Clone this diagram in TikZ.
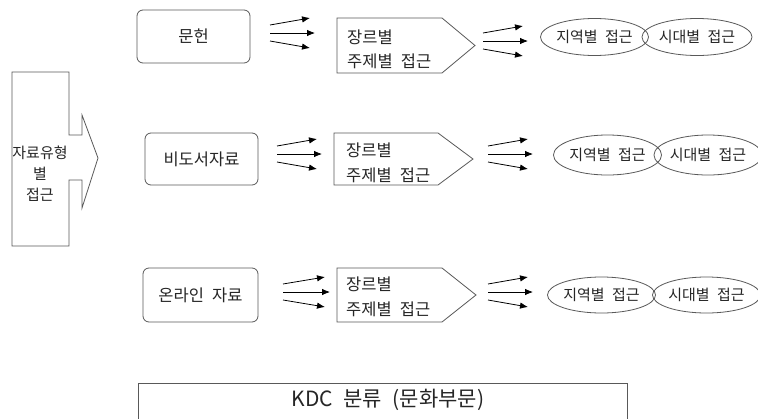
\documentclass[tikz,border=0pt]{standalone}
\usepackage{fontspec}
\setmainfont[WordSpace=2.2]{Noto Sans CJK KR}
\usetikzlibrary{arrows.meta,shapes.geometric}
\newcommand\fanarrows[4]{%
  \coordinate (#4-s1) at (#1,#3-8); \coordinate (#4-e1) at (#2-5,#3-15);
  \coordinate (#4-s2) at (#1,#3);   \coordinate (#4-e2) at (#2,#3);
  \coordinate (#4-s3) at (#1,#3+8); \coordinate (#4-e3) at (#2-5,#3+15);
  \draw[fan] (#4-s1) -- (#4-e1);
  \draw[fan] (#4-s2) -- (#4-e2);
  \draw[fan] (#4-s3) -- (#4-e3);}
\begin{document}
\begin{tikzpicture}[x=1pt,y=-1pt,
  shapeline/.style={draw=black!65, line width=0.8pt},
  fan/.style={-{Latex[length=8pt,width=6.5pt]}, line width=0.8pt, black},
  lbl/.style={font=\fontsize{16.5}{20}\selectfont, inner sep=0pt, text=black!85},
  rbox/.style={shapeline, rounded corners=6pt, inner sep=0pt, font=\fontsize{16.5}{20}\selectfont, text=black!85},
  ell/.style={shapeline, ellipse, inner sep=0pt, font=\fontsize{15}{20}\selectfont, text=black!85},
]
\useasboundingbox (0,0) rectangle (758,418);
\clip (0,0) rectangle (758,418);
\fill[white] (0,0) rectangle (758,418);

% left arrow callout
\draw[shapeline] (12,72) -- (69,72) -- (69,135) -- (82,135) -- (82,115) -- (98,158)
  -- (82,208) -- (82,180) -- (69,180) -- (69,246) -- (12,246) -- cycle;
\node[lbl, font=\fontsize{15}{20}\selectfont] (l1) at (40,153) {자료유형};
\node[lbl, font=\fontsize{15}{20}\selectfont] (l2) at (40,174) {별};
\node[lbl, font=\fontsize{15}{20}\selectfont] (l3) at (40,195) {접근};

% rounded source boxes
\node[rbox, minimum width=113pt, minimum height=53pt] (b1) at (193.5,36.5) {문헌};
\node[rbox, minimum width=113pt, minimum height=52pt] (b2) at (201.5,159) {비도서자료};
\node[rbox, minimum width=115pt, minimum height=54pt] (b3) at (200.5,295) {온라인 자료};

% pentagons
\draw[shapeline] (337,18) -- (442,18) -- (475,45.5) -- (442,73) -- (337,73) -- cycle;
\draw[shapeline] (334,133) -- (438,133) -- (473,159) -- (438,185) -- (334,185) -- cycle;
\draw[shapeline] (337,268) -- (442,268) -- (476,295) -- (442,322) -- (337,322) -- cycle;
\node[lbl, anchor=west] (p1a) at (347,37) {장르별};
\node[lbl, anchor=west] (p1b) at (347,61) {주제별 접근};
\node[lbl, anchor=west] (p2a) at (346,150) {장르별};
\node[lbl, anchor=west] (p2b) at (346,175) {주제별 접근};
\node[lbl, anchor=west] (p3a) at (346,284) {장르별};
\node[lbl, anchor=west] (p3b) at (346,309) {주제별 접근};

% fan arrows
\fanarrows{270}{315}{33}{fa1}
\fanarrows{483}{528}{41}{fb1}
\fanarrows{277}{322}{154}{fa2}
\fanarrows{488}{533}{154}{fb2}
\fanarrows{283}{330}{292}{fa3}
\fanarrows{488}{533}{292}{fb3}

% ellipses
\node[ell, minimum width=105pt, minimum height=37pt] (e11) at (594.5,37) {지역별 접근};
\node[ell, minimum width=110pt, minimum height=37pt] (e12) at (697,37) {시대별 접근};
\node[ell, minimum width=105pt, minimum height=40pt] (e21) at (607.5,155) {지역별 접근};
\node[ell, minimum width=100pt, minimum height=40pt] (e22) at (708,155) {시대별 접근};
\node[ell, minimum width=107pt, minimum height=36pt] (e31) at (601.5,295) {지역별 접근};
\node[ell, minimum width=103pt, minimum height=36pt] (e32) at (706.5,295) {시대별 접근};

% bottom box
\node[shapeline, minimum width=489pt, minimum height=54pt, inner sep=0pt] (kdc) at (382.5,410) {};
\node[lbl, font=\fontsize{21}{24}\selectfont] (kdct) at (388,400) {KDC 분류 (문화부문)};
\end{tikzpicture}
\end{document}
